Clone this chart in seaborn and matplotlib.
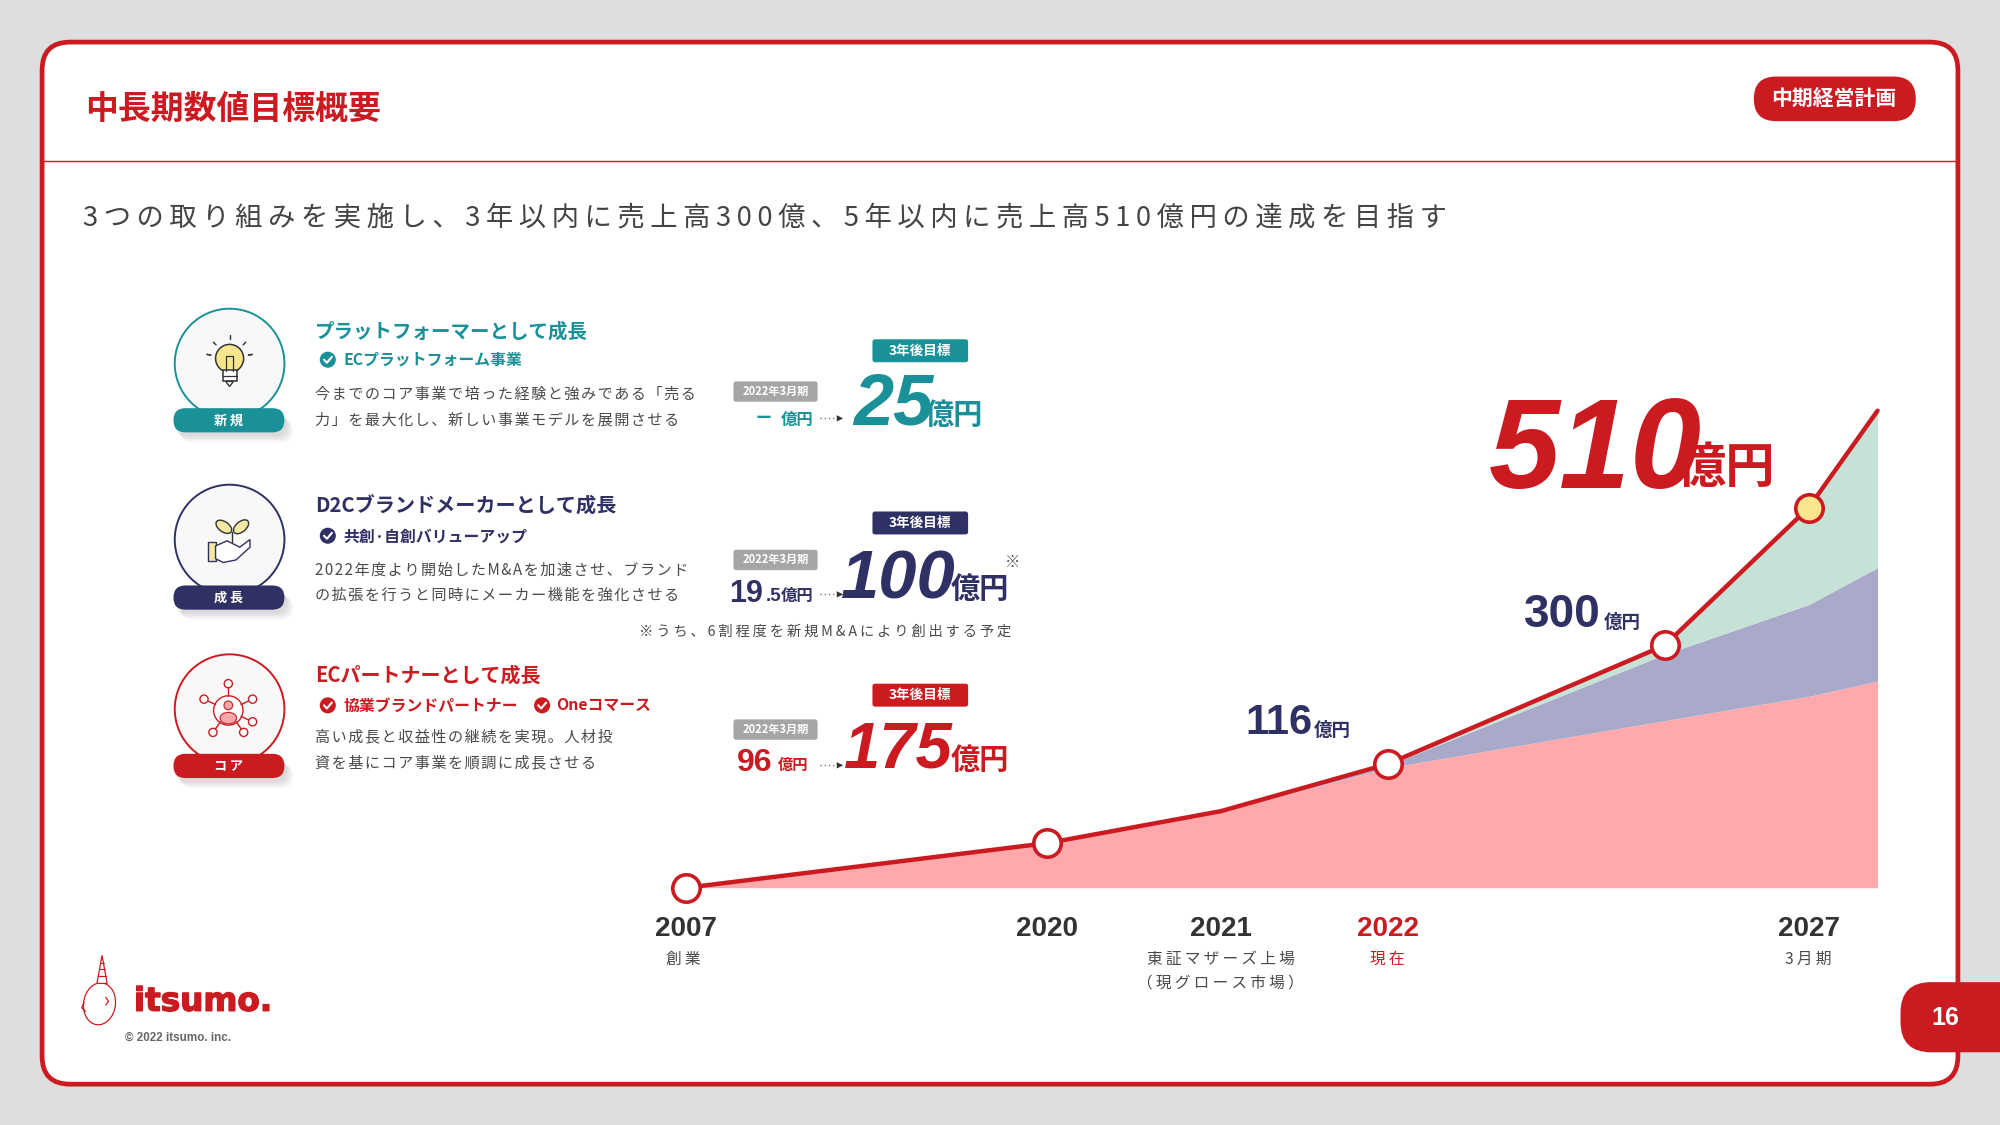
import numpy as np
import matplotlib
matplotlib.use("Agg")
import matplotlib.pyplot as plt
import matplotlib.patheffects as pe
from matplotlib.patches import Circle, Ellipse, FancyBboxPatch, Polygon, Rectangle
import seaborn as sns

# chart values (heights on the drawn scale)
timeline_pos = [0, 283, 419, 550, 767, 880, 934]
core_height = [0, 35, 60, 94, 131, 150, 162]
growth_height = [0, 0, 0, 2, 52, 72, 89]
new_height = [0, 0, 0, 1, 7, 76, 123]
marker_idx = [0, 1, 3, 4]
goal_idx = 5

year_pos = [0, 283, 419, 550, 880]
year_labels = ["2007", "2020", "2021", "2022", "2027"]
year_notes = ["創業", "", "東証マザーズ上場\n（現グロース市場）", "現在", "3月期"]

RED = "#CB1B20"
NAVY = "#2F3165"
TEAL = "#1A9098"
GRAY_TEXT = "#4A4A4A"
JP = ["Noto Sans CJK JP", "DejaVu Sans"]
LAT = ["Liberation Sans", "DejaVu Sans"]
THIN = "\u2009"

sns.set_theme(style="white")
plt.rcParams["font.family"] = JP


def sp(s, gap="\u200a"):
    return gap.join(s)


fig = plt.figure(figsize=(20, 11.25), dpi=100, facecolor="#DEDEDE")

# page layer, drawn in units of a 1568 wide slide
page = fig.add_axes([0, 0, 1, 1], zorder=0)
page.set_xlim(0, 1568)
page.set_ylim(882, 0)
page.axis("off")


def put(x, y, s, size, color=GRAY_TEXT, weight="normal", family=JP, ha="left", va="center", **kw):
    # centre alignment sits a bit high with these fonts
    return page.text(x, y + 2, s, fontsize=size, color=color, fontweight=weight, family=family, ha=ha, va=va, **kw)


def pill(x0, y0, x1, y1, color, r=None, z=2, **kw):
    r = (y1 - y0) / 2 if r is None else r
    box = FancyBboxPatch((x0 + r, y0 + r), x1 - x0 - 2 * r, y1 - y0 - 2 * r,
                         boxstyle=f"round,pad={r},rounding_size={r}", fc=color, ec="none", zorder=z, **kw)
    page.add_patch(box)
    return box


# card
page.add_patch(FancyBboxPatch((55, 55), 1458, 773, boxstyle="round,pad=22,rounding_size=22",
                              fc="white", ec=RED, lw=3.4, zorder=1))
page.plot([33, 1535], [126, 126], color=RED, lw=1.0, zorder=2)
put(67, 84, "中長期数値目標概要", 23.7, RED, "bold")
pill(1375, 60, 1502, 95, RED)
put(1438, 76, "中期経営計画", 15, "white", "bold", ha="center")
put(65, 169, sp("3つの取り組みを実施し、3年以内に売上高300億、5年以内に売上高510億円の達成を目指す", THIN),
    19.7, "#444444")

# page number tab
pill(1490, 770, 1600, 825, RED, r=24)
put(1525, 796, "16", 18, "white", "bold", LAT, ha="center")


def badge(cy, pill_top, color, label):
    # soft shadow below the pill
    for i in range(6):
        pill(136 + 6 - i, pill_top + 9 - i, 223 + 7 - i, pill_top + 27 - i, "#000000", z=2, alpha=0.022)
    page.add_patch(Circle((180, cy), 43, fc="#F8F8F8", ec=color, lw=1.4, zorder=3))
    pill(136, pill_top, 223, pill_top + 19, color, z=4)
    put(179, pill_top + 7.5, label, 9.5, "white", "bold", ha="center", zorder=5)


def check(cx, cy, color):
    page.add_patch(Circle((cx, cy), 6.3, fc=color, ec="none", zorder=3))
    page.plot([cx - 3, cx - 0.7, cx + 3.2], [cy, cy + 2.4, cy - 2.2], color="white", lw=1.5, zorder=4)


def dotted_arrow(y):
    page.plot([643, 656], [y, y], color="#777777", lw=1, ls=(0, (1, 2)), zorder=3)
    page.add_patch(Polygon([[656, y - 2.5], [661, y], [656, y + 2.5]], fc="#333333", ec="none", zorder=3))


def goal(color, tag_y0, num, num_x, num_y, yen_x, yen_y, num_size):
    pill(684, tag_y0, 759, tag_y0 + 18, color, r=2)
    put(721.5, tag_y0 + 7, "3年後目標", 9.8, "white", "bold", ha="center")
    put(num_x, num_y, num, num_size, color, "bold", LAT, style="italic")
    put(yen_x, yen_y, "億円", 21, color, "bold")


def period_tag(y0):
    pill(575, y0, 641, y0 + 16, "#A6A6A6", r=2)
    put(608, y0 + 6, "2022年3月期", 8, "white", "bold", ha="center")


# row 1
badge(285, 320, TEAL, sp("新規", THIN))
put(247, 258, "プラットフォーマーとして成長", 14, TEAL, "bold")
check(257, 282, TEAL)
put(269, 280, "ECプラットフォーム事業", 11.4, TEAL, "bold")
put(247, 307, sp("今までのコア事業で培った経験と強みである「売る"), 10.9)
put(247, 327, sp("力」を最大化し、新しい事業モデルを展開させる"), 10.9)
period_tag(299)
put(592, 326, "ー", 11.5, TEAL, "bold")
put(612, 327, "億円", 11.8, TEAL, "bold")
dotted_arrow(328)
goal(TEAL, 266, "25", 669, 316, 725, 323, 52)

# row 2
badge(423, 459, NAVY, sp("成長", THIN))
put(247, 395, "D2Cブランドメーカーとして成長", 14.5, NAVY, "bold")
check(257, 420, NAVY)
put(269, 419, "共創·自創バリューアップ", 11.4, NAVY, "bold")
put(247, 445, sp("2022年度より開始したM&Aを加速させ、ブランド"), 10.9)
put(247, 465, sp("の拡張を行うと同時にメーカー機能を強化させる"), 10.9)
period_tag(431)
put(572, 464, "19", 22, NAVY, "bold", LAT)
put(600, 466, ".5", 13.5, NAVY, "bold", LAT)
put(612, 465, "億円", 11.8, NAVY, "bold")
dotted_arrow(466)
goal(NAVY, 401, "100", 659, 453, 745, 460, 49.5)
put(794, 439, "※", 11, "#555555", ha="center")
put(793, 493, sp("※うち、6割程度を新規M&Aにより創出する予定", THIN), 10.3, ha="right")

# row 3
badge(556, 591, RED, sp("コア", THIN))
put(247, 527, "ECパートナーとして成長", 14.4, RED, "bold")
check(257, 553, RED)
put(269, 551, "協業ブランドパートナー", 11.4, RED, "bold")
check(425, 553, RED)
put(436, 551, "Oneコマース", 11.4, RED, "bold")
put(247, 576, sp("高い成長と収益性の継続を実現。人材投"), 10.9)
put(247, 596, sp("資を基にコア事業を順調に成長させる"), 10.9)
period_tag(564)
put(578, 596, "96", 23, RED, "bold", LAT)
put(610, 598, "億円", 11, RED, "bold")
dotted_arrow(600)
goal(RED, 536, "175", 662, 586, 745, 594, 47)

# bulb icon
page.add_patch(Circle((180, 281), 11, fc="#F8E68E", ec="#333333", lw=1.1, zorder=4))
page.add_patch(Rectangle((174.5, 290), 11, 9, fc="white", ec="#333333", lw=1.1, zorder=5))
page.plot([174.5, 185.5], [294.5, 294.5], color="#333333", lw=0.9, zorder=6)
page.add_patch(Polygon([[177, 299], [183, 299], [180, 303]], fc="white", ec="#333333", lw=1, zorder=5))
page.plot([177, 177, 183, 183], [291, 279, 279, 291], color="#333333", lw=0.9, zorder=6)
for ang in np.deg2rad([-170, -135, -90, -45, -10, 190, 350]):
    page.plot([180 + 15 * np.cos(ang), 180 + 18 * np.cos(ang)], [281 + 15 * np.sin(ang), 281 + 18 * np.sin(ang)],
              color="#333333", lw=1, zorder=4)

# seedling icon
page.add_patch(Ellipse((175.5, 413), 14, 8, angle=35, fc="#F4E9A0", ec="#333333", lw=1, zorder=4))
page.add_patch(Ellipse((189, 413), 14, 8, angle=-40, fc="#F4E9A0", ec="#333333", lw=1, zorder=4))
page.plot([182, 182], [417, 427], color="#333333", lw=1, zorder=4)
page.add_patch(Rectangle((163, 425), 6, 15, fc="#F4E9A0", ec=NAVY, lw=1, zorder=4))
page.add_patch(Polygon([[169, 428], [178, 424], [188, 429], [196, 423], [196, 429], [185, 439], [175, 441], [169, 438]],
                       fc="white", ec=NAVY, lw=1, zorder=4))

# network icon
page.add_patch(Circle((179, 557), 11.5, fc="white", ec=RED, lw=1, zorder=4))
page.add_patch(Circle((179, 553), 3.4, fc="#F6A8A8", ec=RED, lw=0.8, zorder=5))
page.add_patch(Ellipse((179, 563), 13, 9, fc="#F6A8A8", ec=RED, lw=0.8, zorder=5))
for ang in np.deg2rad([-90, -25, 25, 125, 55, 205]):
    x_s, y_s = 179 + 21 * np.cos(ang), 557 + 21 * np.sin(ang)
    page.plot([179 + 11 * np.cos(ang), x_s], [557 + 11 * np.sin(ang), y_s], color=RED, lw=1, zorder=4)
    page.add_patch(Circle((x_s, y_s), 3.2, fc="white", ec=RED, lw=1, zorder=5))

# chart layer
chart = fig.add_axes([538 / 1568, (882 - 696) / 882, 934 / 1568, 374 / 882], zorder=1)
chart.patch.set_alpha(0)

x = np.array(timeline_pos)
core = np.array(core_height)
growth = np.array(growth_height)
new = np.array(new_height)
total = core + growth + new

chart.stackplot(x, core, growth, new, colors=["#FFA9AC", "#A9AAC9", "#C6E2D7"], linewidth=0, zorder=1)
sns.lineplot(x=x, y=total, color=RED, linewidth=3.2, ax=chart, zorder=2, clip_on=False)
sns.scatterplot(x=x[marker_idx], y=total[marker_idx], s=390, color="white", edgecolor=RED, linewidth=2.6,
                ax=chart, zorder=3, clip_on=False)
sns.scatterplot(x=x[[goal_idx]], y=total[[goal_idx]], s=390, color="#FBE58E", edgecolor=RED, linewidth=2.6,
                ax=chart, zorder=3, clip_on=False)

chart.set_xlim(0, 934)
chart.set_ylim(0, 374)
chart.set_xticks(year_pos, year_labels)
chart.set_yticks([])
chart.tick_params(axis="x", length=0, pad=20, labelsize=20)
for lab in chart.get_xticklabels():
    lab.set_family(LAT)
    lab.set_fontweight("bold")
    lab.set_color(RED if lab.get_text() == "2022" else "#333333")
sns.despine(ax=chart, left=True, bottom=True)
chart.set_xlabel("")
chart.set_ylabel("")

for xp, note, lab in zip(year_pos, year_notes, year_labels):
    if note:
        for i, line in enumerate(note.split("\n")):
            put(538 + xp - 2 if lab == "2007" else 538 + xp, 750 + i * 18.5, sp(line, THIN), 11.3,
                RED if lab == "2022" else GRAY_TEXT, ha="center")

chart_notes = [("新規", "#333333", 445), ("成長", NAVY, 513), ("コア", RED, 618)]
for txt, col, yy in chart_notes:
    put(1408, yy, txt, 11, col, "bold", ha="center")

# callouts
put(976, 565, "116", 30, NAVY, "bold", LAT)
put(1030, 571, "億円", 13.3, NAVY, "bold")
put(1195, 480, "300", 33, NAVY, "bold", LAT)
put(1257, 486, "億円", 13.3, NAVY, "bold")
put(1167, 355, "510", 92, RED, "bold", LAT, style="italic")
put(1314, 365, "億円", 35.5, RED, "bold")

# logo
page.add_patch(Ellipse((78, 787), 25, 33, angle=8, fc="white", ec=RED, lw=0.9, zorder=3))
page.add_patch(Polygon([[76, 771], [84, 771], [80, 749]], fc="white", ec=RED, lw=0.9, zorder=3))
for yy, half in [(765, 3.0), (760, 2.0), (755, 1.2)]:
    page.plot([80 - half, 80 + half], [yy, yy], color=RED, lw=0.8, zorder=4)
page.plot([66, 64, 67], [786, 790, 793], color=RED, lw=0.9, zorder=4)
page.plot([83, 85, 83], [782, 785, 788], color=RED, lw=0.9, zorder=4)
logo = put(105, 783, "itsumo.", 23.5, RED, "bold", ["DejaVu Sans"])
logo.set_path_effects([pe.withStroke(linewidth=1.0, foreground=RED)])
put(98, 812, "© 2022 itsumo. inc.", 8.4, "#666666", "bold", LAT)

fig.savefig("out.png", dpi=100, facecolor=fig.get_facecolor())
